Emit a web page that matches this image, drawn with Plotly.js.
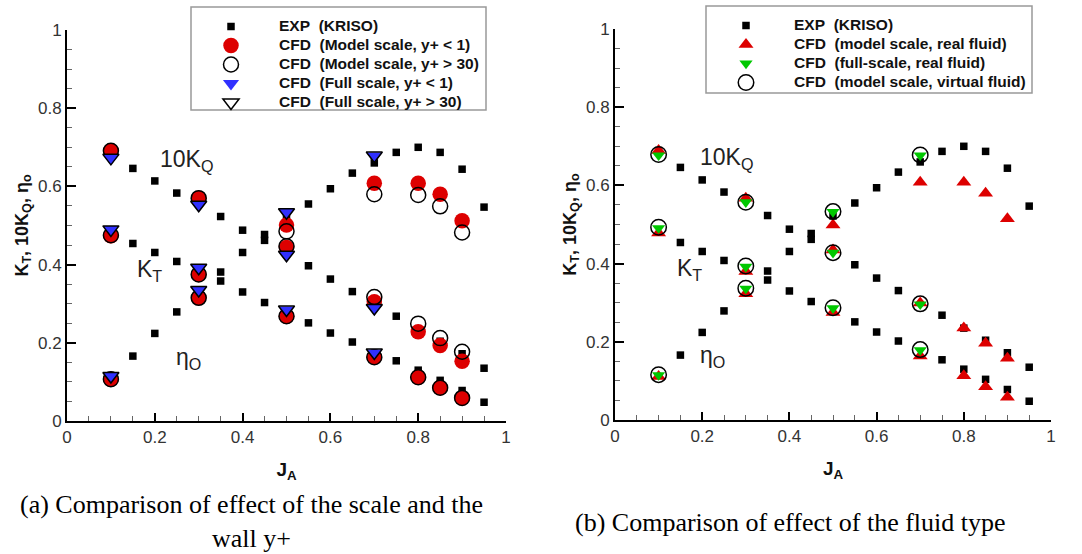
<!DOCTYPE html>
<html>
<head>
<meta charset="utf-8">
<script src="https://cdn.plot.ly/plotly-3.0.1.min.js"></script>
<style>html,body{margin:0;padding:0;background:#fff;} #chart{width:1082px;height:554px;}</style>
</head>
<body>
<div id="chart"></div>
<script>
// ---------- EXP (KRISO) data (shared by both panels) ----------
var expJ_KT   = [0.15,0.2,0.25,0.35,0.4,0.45,0.55,0.6,0.65,0.75,0.8,0.85,0.9,0.95];
var expKT     = [0.454,0.431,0.408,0.358,0.330,0.303,0.251,0.225,0.202,0.154,0.130,0.104,0.078,0.048];
var expJ_KQ   = [0.15,0.2,0.25,0.35,0.4,0.45,0.55,0.6,0.65,0.75,0.8,0.85,0.9,0.95];
var expKQ10   = [0.646,0.614,0.583,0.523,0.488,0.462,0.397,0.363,0.331,0.268,0.235,0.204,0.172,0.135];
var expJ_Eta  = [0.15,0.2,0.25,0.35,0.4,0.45,0.5,0.55,0.6,0.65,0.7,0.75,0.8,0.85,0.9,0.95];
var expEta    = [0.166,0.224,0.279,0.381,0.431,0.477,0.522,0.555,0.594,0.634,0.660,0.687,0.700,0.687,0.644,0.547];

// ---------- Panel (a) ----------
var jModel = [0.1,0.3,0.5,0.7,0.8,0.85,0.9];
var jFull  = [0.1,0.3,0.5,0.7];
// CFD (Model scale, y+ < 1)
var modelY1_KT   = [0.474,0.375,0.268,0.164,0.112,0.085,0.059];
var modelY1_KQ10 = [0.691,0.570,0.444,0.305,0.228,0.193,0.153];
var modelY1_Eta  = [0.107,0.315,0.501,0.608,0.608,0.580,0.512];
// CFD (Model scale, y+ > 30)
var modelY30_KT   = [0.475,0.375,0.268,0.163,0.112,0.085,0.059];
var modelY30_KQ10 = [0.691,0.570,0.447,0.317,0.249,0.212,0.177];
var modelY30_Eta  = [0.107,0.315,0.485,0.580,0.578,0.549,0.482];
// CFD (Full scale, y+ < 1)
var fullY1_KT   = [0.490,0.392,0.284,0.174];
var fullY1_KQ10 = [0.672,0.552,0.424,0.288];
var fullY1_Eta  = [0.114,0.334,0.533,0.678];
// CFD (Full scale, y+ > 30)
var fullY30_KT   = [0.490,0.392,0.285,0.175];
var fullY30_KQ10 = [0.673,0.553,0.425,0.289];
var fullY30_Eta  = [0.115,0.335,0.534,0.679];

// ---------- Panel (b) ----------
var jReal = [0.1,0.3,0.5,0.7,0.8,0.85,0.9];
var jFS   = [0.1,0.3,0.5,0.7];
// CFD (model scale, real fluid)
var realModel_KT   = [0.478,0.380,0.275,0.164,0.113,0.085,0.058];
var realModel_KQ10 = [0.689,0.567,0.435,0.299,0.235,0.196,0.158];
var realModel_Eta  = [0.111,0.323,0.499,0.608,0.608,0.580,0.515];
// CFD (full-scale, real fluid)
var realFull_KT   = [0.491,0.392,0.286,0.179];
var realFull_KQ10 = [0.677,0.557,0.428,0.296];
var realFull_Eta  = [0.115,0.336,0.532,0.677];
// CFD (model scale, virtual fluid)
var virtModel_KT   = [0.493,0.394,0.287,0.180];
var virtModel_KQ10 = [0.679,0.557,0.428,0.297];
var virtModel_Eta  = [0.116,0.337,0.533,0.678];

var legendA = ['EXP\u00a0 (KRISO)','CFD\u00a0 (Model scale, y+ < 1)','CFD\u00a0 (Model scale, y+ > 30)','CFD\u00a0 (Full scale, y+ < 1)','CFD\u00a0 (Full scale, y+ > 30)'];
var legendB = ['EXP\u00a0 (KRISO)','CFD\u00a0 (model scale, real fluid)','CFD\u00a0 (full-scale, real fluid)','CFD\u00a0 (model scale, virtual fluid)'];

function cat3(a,b,c){return a.concat(b).concat(c);}

var RED = '#dd0000', BLUE = '#3030ff', GREEN = '#00c800';

function tr(name, xs, ys, xa, ya, leg, marker){
  return {type:'scatter', mode:'markers', name:'<span style="font-size:15.5px"><b>'+name+'</b></span>', x:xs, y:ys, xaxis:xa, yaxis:ya,
          legend:leg, marker:marker, cliponaxis:false, hoverinfo:'skip'};
}

var expX = cat3(expJ_KT, expJ_KQ, expJ_Eta);
var expY = cat3(expKT, expKQ10, expEta);
var sq = {symbol:'square', size:7.5, color:'#000', line:{width:0}};

var data = [
  tr(legendA[0], expX, expY, 'x', 'y', 'legend', sq),
  tr(legendA[1], cat3(jModel,jModel,jModel), cat3(modelY1_KT,modelY1_KQ10,modelY1_Eta), 'x','y','legend',
     {symbol:'circle', size:15.5, color:RED, line:{width:0}}),
  tr(legendA[2], cat3(jModel,jModel,jModel), cat3(modelY30_KT,modelY30_KQ10,modelY30_Eta), 'x','y','legend',
     {symbol:'circle-open', size:15, color:'#000', line:{width:1.5, color:'#000'}}),
  tr(legendA[3], cat3(jFull,jFull,jFull), cat3(fullY1_KT,fullY1_KQ10,fullY1_Eta), 'x','y','legend',
     {symbol:'triangle-down', size:14, color:BLUE, line:{width:0}}),
  tr(legendA[4], cat3(jFull,jFull,jFull), cat3(fullY30_KT,fullY30_KQ10,fullY30_Eta), 'x','y','legend',
     {symbol:'triangle-down-open', size:14, color:'#000', line:{width:1.5, color:'#000'}}),

  tr(legendB[0], expX, expY, 'x2', 'y2', 'legend2', sq),
  tr(legendB[1], cat3(jReal,jReal,jReal), cat3(realModel_KT,realModel_KQ10,realModel_Eta), 'x2','y2','legend2',
     {symbol:'triangle-up', size:13, color:RED, line:{width:0}}),
  tr(legendB[2], cat3(jFS,jFS,jFS), cat3(realFull_KT,realFull_KQ10,realFull_Eta), 'x2','y2','legend2',
     {symbol:'triangle-down', size:11.5, color:GREEN, line:{width:0}}),
  tr(legendB[3], cat3(jFS,jFS,jFS), cat3(virtModel_KT,virtModel_KQ10,virtModel_Eta), 'x2','y2','legend2',
     {symbol:'circle-open', size:15.5, color:'#000', line:{width:1.5, color:'#000'}})
];

var SANS = 'Liberation Sans, Arial, sans-serif';
var SERIF = 'Liberation Serif, Times New Roman, serif';

function xax(domain, anchor){
  return {domain:domain, anchor:anchor, range:[0,1], dtick:0.2, tick0:0, showgrid:false, zeroline:false,
    showline:true, linecolor:'#000', linewidth:2, ticks:'inside', ticklen:8, tickwidth:2, tickcolor:'#000',
    minor:{dtick:0.05, ticks:'inside', ticklen:5, tickwidth:1, tickcolor:'#666'},
    tickfont:{family:SANS, size:17, color:'#333'},
    title:{text:'<b>J<sub>A</sub></b>', font:{family:SANS, size:19, color:'#111'}, standoff:16}, fixedrange:true};
}
function yax(domain, anchor){
  return {domain:domain, anchor:anchor, range:[0,1], dtick:0.2, tick0:0, showgrid:false, zeroline:false,
    showline:true, linecolor:'#000', linewidth:2, ticks:'inside', ticklen:9, tickwidth:2, tickcolor:'#000',
    minor:{dtick:0.05, ticks:'inside', ticklen:5, tickwidth:1, tickcolor:'#666'},
    tickfont:{family:SANS, size:17, color:'#333'},
    title:{text:'<b>K<sub>T</sub>, 10K<sub>Q</sub>, η<sub>o</sub></b>', font:{family:SANS, size:18, color:'#111'}, standoff:5}, fixedrange:true};
}

function ann(text, x, y, xr, yr){
  return {text:text, x:x, y:y, xref:xr, yref:yr, xanchor:'left', yanchor:'middle', showarrow:false,
          font:{family:SANS, size:23, color:'#222'}};
}

var W = 1082, H = 554;
function px(v){return v/W;}
function py(v){return 1 - v/H;}

var layout = {
  width:W, height:H, margin:{l:0,r:0,t:0,b:0}, paper_bgcolor:'#fff', plot_bgcolor:'rgba(0,0,0,0)',
  showlegend:true,
  xaxis: xax([px(67), px(506)], 'y'),
  yaxis: yax([py(421), py(30)], 'x'),
  xaxis2: xax([px(615), px(1051)], 'y2'),
  yaxis2: yax([py(420), py(29)], 'x2'),
  legend:{x:px(183), y:py(12), xanchor:'left', yanchor:'top', bgcolor:'rgba(0,0,0,0)', borderwidth:0,
          font:{family:SANS, size:12, color:'#111'}, itemwidth:86, tracegroupgap:0},
  legend2:{x:px(698), y:py(11), xanchor:'left', yanchor:'top', bgcolor:'rgba(0,0,0,0)', borderwidth:0,
          font:{family:SANS, size:12, color:'#111'}, itemwidth:86, tracegroupgap:0},
  shapes:[
    {type:'rect', xref:'paper', yref:'paper', x0:px(191), x1:px(486), y0:py(110), y1:py(7),
     line:{color:'#999', width:1.5}, fillcolor:'#fff', layer:'below'},
    {type:'rect', xref:'paper', yref:'paper', x0:px(706), x1:px(1032), y0:py(93), y1:py(6),
     line:{color:'#999', width:1.5}, fillcolor:'#fff', layer:'below'}
  ],
  annotations:[
    ann('10K<sub>Q</sub>', 0.208, 0.665, 'x', 'y'),
    ann('K<sub>T</sub>', 0.155, 0.385, 'x', 'y'),
    ann('η<sub>O</sub>', 0.244, 0.160, 'x', 'y'),
    ann('10K<sub>Q</sub>', 0.190, 0.670, 'x2', 'y2'),
    ann('K<sub>T</sub>', 0.138, 0.385, 'x2', 'y2'),
    ann('η<sub>O</sub>', 0.190, 0.163, 'x2', 'y2'),
    {text:'(a) Comparison of effect of the scale and the<br>wall y+', x:px(251), y:py(521), xref:'paper', yref:'paper',
     xanchor:'center', yanchor:'middle', align:'center', showarrow:false, font:{family:SERIF, size:26, color:'#000'}},
    {text:'(b) Comparison of effect of the fluid type', x:px(790), y:py(522), xref:'paper', yref:'paper',
     xanchor:'center', yanchor:'middle', showarrow:false, font:{family:SERIF, size:26, color:'#000'}}
  ]
};

Plotly.newPlot('chart', data, layout, {staticPlot:true, displayModeBar:false});
</script>
</body>
</html>
